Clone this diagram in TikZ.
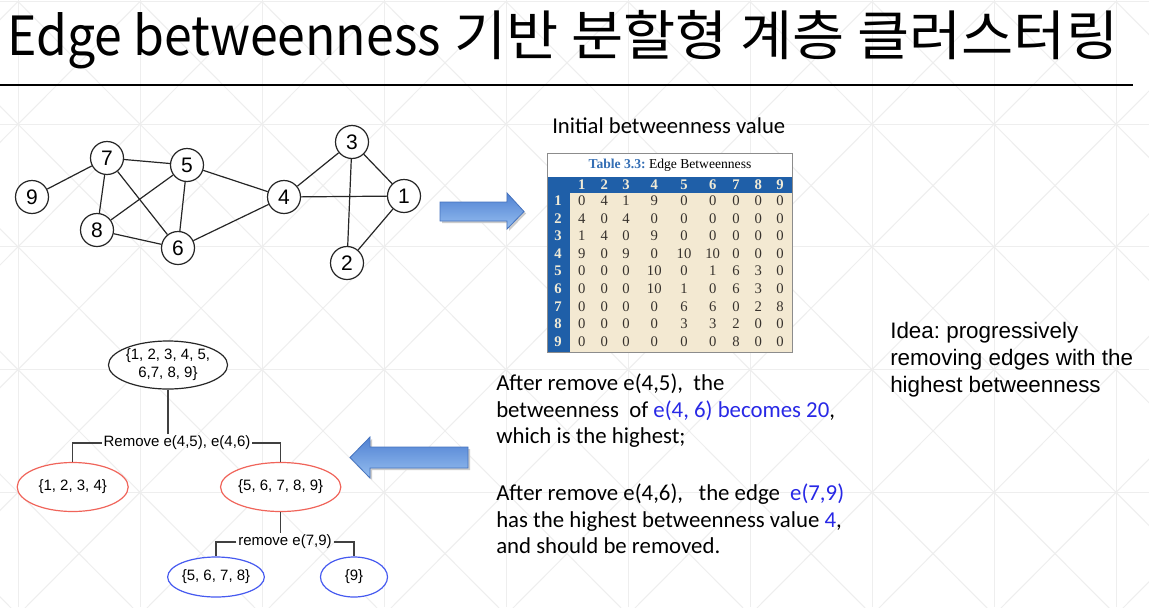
\documentclass[tikz,border=0pt]{standalone}
\usepackage{fontspec}
\setmainfont{Carlito}
\newfontfamily\krfont{Noto Sans CJK KR}
\newfontfamily\arial{Liberation Sans}
\newfontfamily\tserif{Liberation Serif}
\usetikzlibrary{shapes.geometric}
\definecolor{tblue}{RGB}{31,95,168}
\definecolor{tbeige}{RGB}{243,233,210}
\definecolor{tcream}{RGB}{240,235,215}
\definecolor{ttitle}{RGB}{52,110,180}
\definecolor{tdigit}{RGB}{55,50,45}
\definecolor{redE}{RGB}{240,100,90}
\definecolor{blueE}{RGB}{70,90,240}
\definecolor{txtblue}{RGB}{40,40,230}
\definecolor{bggrid}{RGB}{238,238,238}
\definecolor{arrtop}{RGB}{79,129,210}
\definecolor{arrbot}{RGB}{150,190,240}
\definecolor{arrline}{RGB}{70,115,190}
\frenchspacing
\begin{document}
\begin{tikzpicture}[x=0.75pt,y=-0.75pt,
  bgline/.style={draw=bggrid,line width=0.75pt},
  gnode/.style={circle,draw=black!85,line width=0.9pt,minimum size=24.75pt,inner sep=0pt,fill=white,font=\arial\fontsize{15.75pt}{16pt}\selectfont},
  gedge/.style={draw=black!85,line width=0.9pt},
  hdr/.style={inner sep=0pt,text=tcream,font=\tserif\bfseries\fontsize{11pt}{11pt}\selectfont},
  cell/.style={inner sep=0pt,text=tdigit,font=\tserif\fontsize{11pt}{11pt}\selectfont},
  txt/.style={anchor=base west,inner sep=0pt,font=\fontsize{17.1pt}{20pt}\selectfont},
  idea/.style={anchor=base west,inner sep=0pt,font=\arial\fontsize{16.8pt}{20pt}\selectfont},
  tnode/.style={ellipse,draw,line width=0.9pt,inner sep=0pt,fill=white,align=center,font=\arial\fontsize{11.25pt}{13.5pt}\selectfont},
  tlab/.style={inner sep=1.2pt,font=\arial\fontsize{11.25pt}{13.5pt}\selectfont},
  tline/.style={draw=black!75,line width=0.9pt},
  blockarrow/.style={top color=arrtop,bottom color=arrbot,draw=arrline,line width=0.6pt}
]
\useasboundingbox (0,0) rectangle (1149,607);
\fill[white] (0,0) rectangle (1149,607);
% background pattern
\begin{scope}
\clip (0,0) rectangle (1149,607);
\foreach \i in {-1,...,9} {
  \draw[bgline] ({18+122*\i},0) -- ({18+122*\i},607);
  \foreach \j in {0,...,4} {
    \draw[bgline] ({18+122*\i},{1.5+122.7*\j}) -- ({140+122*\i},{124.2+122.7*\j});
    \draw[bgline] ({140+122*\i},{1.5+122.7*\j}) -- ({18+122*\i},{124.2+122.7*\j});
  }
}
\foreach \j in {0,...,4} \draw[bgline] (0,{1.5+122.7*\j}) -- (1149,{1.5+122.7*\j});
\end{scope}
% title
\node[anchor=base west,inner sep=0pt,font=\krfont\fontsize{40.5pt}{48pt}\selectfont] (title) at (7,55) {\scalebox{0.925}[1]{Edge betweenness}\hspace{0.25em}\scalebox{1.05}[1]{기반 분할형 계층 클러스터링}};
\draw[line width=1.5pt] (0,85) -- (1133,85);
% graph
\node[gnode] (n7) at (107,158) {7};
\node[gnode] (n5) at (187,165) {5};
\node[gnode] (n9) at (32,197) {9};
\node[gnode] (n8) at (97,230) {8};
\node[gnode] (n6) at (178,248) {6};
\node[gnode] (n4) at (284,197) {4};
\node[gnode] (n3) at (352,142) {3};
\node[gnode] (n1) at (404,196) {1};
\node[gnode] (n2) at (347,263) {2};
\foreach \a/\b in {n9/n7,n7/n5,n7/n8,n7/n6,n5/n8,n5/n6,n5/n4,n8/n6,n6/n4,n4/n3,n4/n1,n3/n1,n3/n2,n1/n2}
  \draw[gedge] (\a) -- (\b);
% arrows
\fill[black!20] (442,204) -- (509,204) -- (509,195) -- (526,213.5) -- (509,231) -- (509,223) -- (442,223) -- cycle;
\shade[blockarrow] (440,202) -- (507,202) -- (507,193) -- (524,211.5) -- (507,229) -- (507,221) -- (440,221) -- cycle;
\fill[black!20] (470,449) -- (372,449) -- (372,439) -- (352,459.5) -- (372,480) -- (372,470) -- (470,470) -- cycle;
\shade[blockarrow] (468,447) -- (370,447) -- (370,437) -- (350,457.5) -- (370,478) -- (370,468) -- (468,468) -- cycle;
% table
\node[anchor=base west,inner sep=0pt,font=\fontsize{17pt}{20pt}\selectfont] (tcap) at (552,133) {Initial betweenness value};
\fill[white] (547,153) rectangle (792,352);
\fill[tblue] (547,177) rectangle (792,193);
\fill[tblue] (547,177) rectangle (570,352);
\fill[tbeige] (570,193) rectangle (792,352);
\draw[black!45,line width=0.6pt] (547,153) rectangle (792,352);
\node[inner sep=0pt,font=\tserif\fontsize{10.2pt}{11pt}\selectfont] (ttl) at (670,165) {{\color{ttitle}\bfseries Table 3.3:} Edge Betweenness};
\foreach \x [count=\ci] in {581.7,604.3,626,654.3,684,712.7,736,758.3,780}
  \node[hdr] (h-\ci) at (\x,185) {\ci};
\foreach \ri in {1,...,9}
  \node[hdr] (r-\ri) at (558,{200.7+17.6*(\ri-1)}) {\ri};
\foreach \rowvals [count=\ri] in {{0,4,1,9,0,0,0,0,0},{4,0,4,0,0,0,0,0,0},{1,4,0,9,0,0,0,0,0},{9,0,9,0,10,10,0,0,0},{0,0,0,10,0,1,6,3,0},{0,0,0,10,1,0,6,3,0},{0,0,0,0,6,6,0,2,8},{0,0,0,0,3,3,2,0,0},{0,0,0,0,0,0,8,0,0}} {
  \foreach \v [count=\ci] in \rowvals {
    \node[cell] (c-\ri-\ci) at (h-\ci |- r-\ri) {\v};
  }
}
% explanation text
\node[txt] (l1) at (496,390) {After remove e(4,5),\ \ the};
\node[txt] (l2) at (496,417) {betweenness\ \ of {\color{txtblue}e(4, 6) becomes 20},};
\node[txt] (l3) at (496,443) {which is the highest;};
\node[txt] (l4) at (496,500) {After remove e(4,6),\ \ \ the edge\ \ {\color{txtblue}e(7,9)}};
\node[txt] (l5) at (496,527) {has the highest betweenness value {\color{txtblue}4},};
\node[txt] (l6) at (496,553) {and should be removed.};
\node[idea] (i1) at (890,338) {Idea: progressively};
\node[idea] (i2) at (890,365) {removing edges with the};
\node[idea] (i3) at (890,392) {highest betweenness};
% tree
\node[tnode,draw=black!85,minimum width=83.25pt,minimum height=36pt] (root) at (168,365) {\{1, 2, 3, 4, 5,\\6,7, 8, 9\}};
\node[tnode,draw=redE,minimum width=83.25pt,minimum height=36.75pt] (left) at (72.7,487) {\{1, 2, 3, 4\}};
\node[tnode,draw=redE,minimum width=81.75pt,minimum height=36.75pt] (right) at (280.7,487) {\{5, 6, 7, 8, 9\}};
\node[tnode,draw=blueE,minimum width=71.25pt,minimum height=30pt] (bl) at (216,577) {\{5, 6, 7, 8\}};
\node[tnode,draw=blueE,minimum width=50.25pt,minimum height=30pt] (b9) at (354,577) {\{9\}};
\node[tlab] (lab1) at (177,443) {Remove e(4,5), e(4,6)};
\node[tlab] (lab2) at (285,542) {remove e(7,9)};
\draw[tline] (root.south) -- (root.south |- lab1.north);
\draw[tline] (lab1.west) -| (left.north);
\draw[tline] (lab1.east) -| (right.north);
\draw[tline] (right.south) -- (right.south |- lab2.north);
\draw[tline] (lab2.west) -| (bl.north);
\draw[tline] (lab2.east) -| (b9.north);
\end{tikzpicture}
\end{document}
